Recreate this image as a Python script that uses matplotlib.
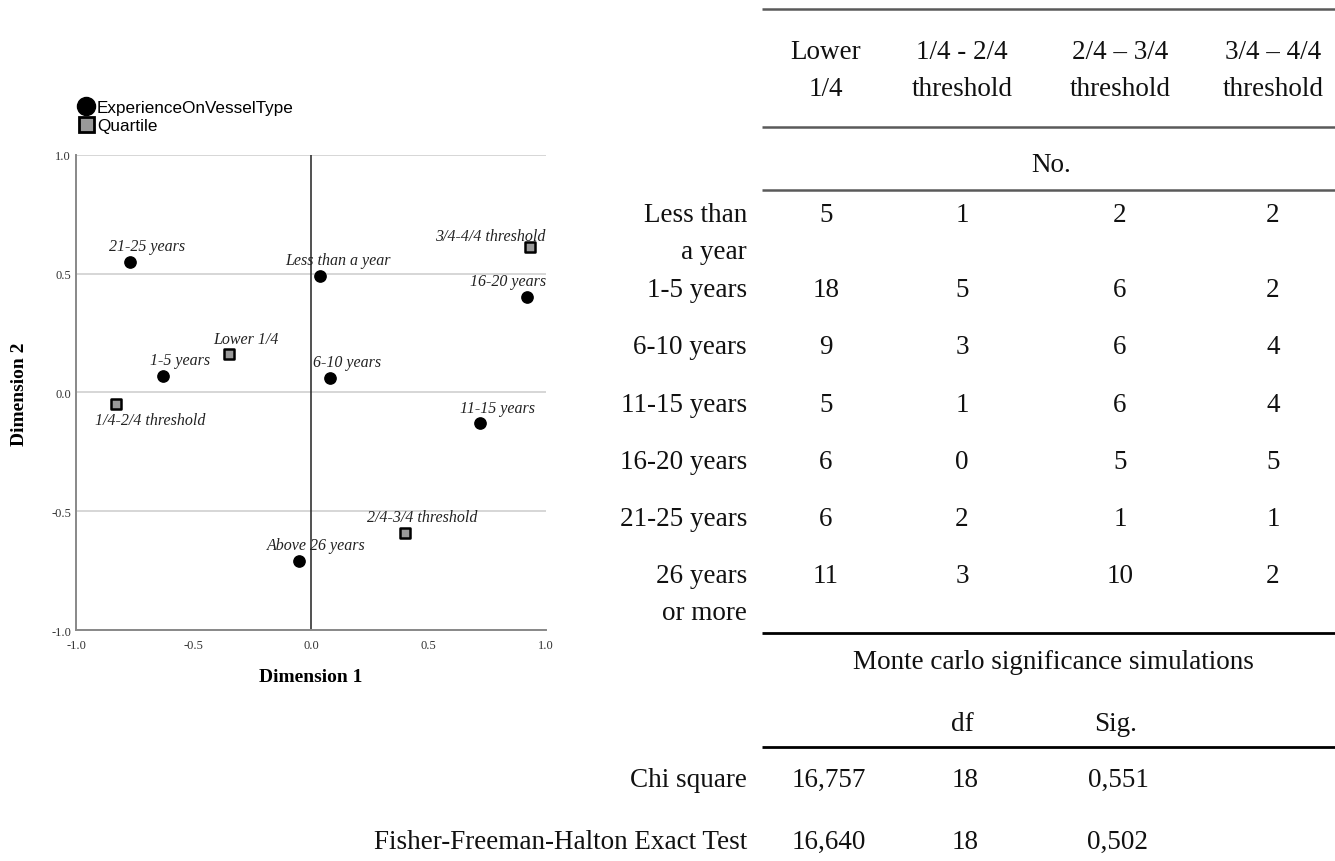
import matplotlib
matplotlib.use('Agg')
import matplotlib.pyplot as plt
from matplotlib.lines import Line2D

plt.rcParams['axes.unicode_minus'] = False

# ---------------- Data: correspondence analysis coordinates ----------------
exp_labels = ["21-25 years", "Less than a year", "16-20 years", "1-5 years",
              "6-10 years", "11-15 years", "Above 26 years"]
exp_dim1 = [-0.77, 0.04, 0.92, -0.63, 0.08, 0.72, -0.05]
exp_dim2 = [0.55, 0.49, 0.40, 0.07, 0.06, -0.13, -0.71]

quart_labels = ["3/4-4/4 threshold", "Lower 1/4", "1/4-2/4 threshold", "2/4-3/4 threshold"]
quart_dim1 = [0.93, -0.35, -0.83, 0.40]
quart_dim2 = [0.61, 0.16, -0.05, -0.59]

axis_ticks = [-1.0, -0.5, 0.0, 0.5, 1.0]
legend_labels = ["ExperienceOnVesselType", "Quartile"]

# ---------------- Data: cross table ----------------
col_headers = ["Lower\n1/4", "1/4 - 2/4\nthreshold", "2/4 \u2013 3/4\nthreshold", "3/4 \u2013 4/4\nthreshold"]
row_labels = ["Less than\na year", "1-5 years", "6-10 years", "11-15 years",
              "16-20 years", "21-25 years", "26 years\nor more"]
counts = [[5, 1, 2, 2],
          [18, 5, 6, 2],
          [9, 3, 6, 4],
          [5, 1, 6, 4],
          [6, 0, 5, 5],
          [6, 2, 1, 1],
          [11, 3, 10, 2]]
count_unit = "No."
sim_title = "Monte carlo significance simulations"
stat_headers = ["df", "Sig."]
test_names = ["Chi square", "Fisher-Freeman-Halton Exact Test"]
test_values = ["16,757", "16,640"]
test_df = [18, 18]
test_sig = ["0,551", "0,502"]

# ---------------- Styling / layout (pixels) ----------------
W, H = 1335, 862
SERIF = ['Liberation Serif', 'DejaVu Serif']
SANS = ['Liberation Sans', 'DejaVu Sans']

# label offsets in points: (dx, dy_baseline, ha)
std_off = (12.6, 8.4, 'center')
label_offsets = {
    "3/4-4/4 threshold": (11.5, 5.5, 'right'),
    "16-20 years": (13.5, 8.9, 'right'),
    "1/4-2/4 threshold": (25.0, -14.4, 'center'),
}

fig = plt.figure(figsize=(W / 100, H / 100), dpi=100)

# overlay axes in pixel coordinates for table
ax_t = fig.add_axes([0, 0, 1, 1])
ax_t.set_xlim(0, W)
ax_t.set_ylim(H, 0)
ax_t.axis('off')

# scatter axes
ax_l, ax_r, ax_top, ax_bot = 76, 546, 155.7, 631
ax = fig.add_axes([ax_l / W, 1 - ax_bot / H, (ax_r - ax_l) / W, (ax_bot - ax_top) / H])
ax.set_xlim(-1, 1)
ax.set_ylim(-1, 1)
ax.set_xticks(axis_ticks)
ax.set_yticks(axis_ticks)
ax.set_xticklabels([f"{t:.1f}" for t in axis_ticks], fontfamily=SERIF, fontsize=9, color='#333333')
ax.set_yticklabels([f"{t:.1f}" for t in axis_ticks], fontfamily=SERIF, fontsize=9, color='#333333')
ax.tick_params(axis='x', length=0, pad=6.5)
ax.tick_params(axis='y', length=0, pad=3.6)
for s in ['top', 'right']:
    ax.spines[s].set_visible(False)
for s in ['left', 'bottom']:
    ax.spines[s].set_color('#888888')
    ax.spines[s].set_linewidth(1.4)
ax.yaxis.grid(True, color='#cfcfcf', linewidth=1.2)
ax.set_axisbelow(True)
ax.axvline(0, color='#333333', linewidth=1.2, zorder=1)

ax.scatter(exp_dim1, exp_dim2, s=66, color='black', zorder=3, clip_on=False)
ax.scatter(quart_dim1, quart_dim2, s=42, marker='s', facecolor='#999999',
           edgecolor='black', linewidths=1.8, zorder=3, clip_on=False)

for lab, x, y in list(zip(exp_labels, exp_dim1, exp_dim2)) + list(zip(quart_labels, quart_dim1, quart_dim2)):
    dx, dy, ha = label_offsets.get(lab, std_off)
    ax.annotate(lab, (x, y), xytext=(dx, dy), textcoords='offset points',
                ha=ha, va='baseline', fontsize=11.5, fontstyle='italic',
                fontfamily=SERIF, color='#222222', zorder=4, annotation_clip=False)

# axis titles
fig.text(311 / W, 1 - 678 / H, "Dimension 1", ha='center', va='center',
         fontfamily=SERIF, fontweight='bold', fontsize=14)
fig.text(20 / W, 1 - 394 / H, "Dimension 2", ha='center', va='center', rotation=90,
         fontfamily=SERIF, fontweight='bold', fontsize=14)

# legend
handles = [Line2D([], [], marker='o', ls='', color='black', markersize=13),
           Line2D([], [], marker='s', ls='', markerfacecolor='#999999',
                  markeredgecolor='black', markeredgewidth=2.0, markersize=10.8)]
fig.legend(handles, legend_labels, loc='upper left', bbox_to_anchor=(77 / W, 1 - 101 / H),
           frameon=False, handlelength=1.05, handletextpad=0.12, labelspacing=0.19,
           borderpad=0, borderaxespad=0, prop={'family': SANS, 'size': 12.3})

# ---------------- Table ----------------
FS = 19.5
col_x = [826, 962, 1120, 1273]
line_x0, line_x1 = 762, W
label_right = 747
line_gap = 37

def tt(x, y, s, ha='center'):
    for i, part in enumerate(s.split("\n")):
        ax_t.text(x, y + i * line_gap, part, ha=ha, va='baseline', fontsize=FS,
                  fontfamily=SERIF, color='#111111')

# rules
ax_t.hlines([10, 128, 191], line_x0, line_x1, color='#5a5a5a', linewidth=1.8)
ax_t.hlines([634, 748], line_x0, line_x1, color='black', linewidth=2.0)

for x, h in zip(col_x, col_headers):
    tt(x, 59, h)
tt((col_x[1] + col_x[2]) / 2 + 10, 172, count_unit)

row_y = [222, 297, 354, 412, 469, 526, 583]
for y, lab, vals in zip(row_y, row_labels, counts):
    tt(label_right, y, lab, ha='right')
    for x, v in zip(col_x, vals):
        tt(x, y, str(v))

tt(1053, 669, sim_title)
tt(962, 731, stat_headers[0])
tt(1116, 731, stat_headers[1])

test_y = [787, 849]
for y, n, v, d, sg in zip(test_y, test_names, test_values, test_df, test_sig):
    tt(label_right, y, n, ha='right')
    tt(829, y, v)
    tt(965, y, str(d))
    tt(1118, y, sg)

fig.savefig("out.png", dpi=100)
